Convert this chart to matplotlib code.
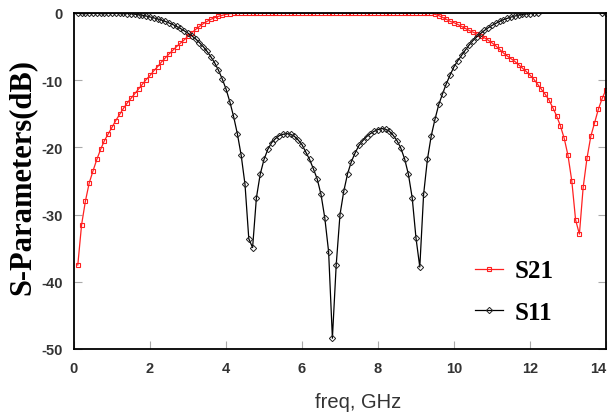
import numpy as np
import matplotlib
matplotlib.use("Agg")
import matplotlib.pyplot as plt

# ---------------- data ----------------
freq_s21 = np.round(np.arange(1, 141) * 0.1, 1)  # 0.1 .. 14.0 GHz
s21_db = [
    -37.5, -31.5, -28.0, -25.3, -23.5, -21.8, -20.3, -19.0, -18.0, -17.0,   # 0.1-1.0
    -16.0, -15.1, -14.2, -13.4, -12.7, -12.0, -11.3, -10.6, -9.9, -9.3,     # 1.1-2.0
    -8.6, -8.0, -7.3, -6.7, -6.1, -5.55, -5.0, -4.5, -4.0, -3.45,          # 2.1-3.0
    -2.95, -2.45, -2.0, -1.6, -1.25, -0.95, -0.7, -0.5, -0.35, -0.2,        # 3.1-4.0
    -0.1, -0.05, -0.05, -0.05, -0.05, -0.05, -0.05, -0.05, -0.05, -0.05,    # 4.1-5.0
    -0.05, -0.05, -0.05, -0.05, -0.05, -0.05, -0.05, -0.05, -0.05, -0.05,   # 5.1-6.0
    -0.05, -0.05, -0.05, -0.05, -0.05, -0.05, -0.05, -0.05, -0.05, -0.05,   # 6.1-7.0
    -0.05, -0.05, -0.05, -0.05, -0.05, -0.05, -0.05, -0.05, -0.05, -0.05,   # 7.1-8.0
    -0.05, -0.05, -0.05, -0.05, -0.05, -0.05, -0.05, -0.05, -0.05, -0.05,   # 8.1-9.0
    -0.05, -0.05, -0.05, -0.05, -0.2, -0.4, -0.65, -0.95, -1.25, -1.45,     # 9.1-10.0
    -1.7, -2.0, -2.3, -2.6, -2.85, -3.1, -3.4, -3.7, -4.05, -4.45,          # 10.1-11.0
    -4.9, -5.4, -5.95, -6.4, -6.8, -7.2, -7.7, -8.2, -8.7, -9.25,           # 11.1-12.0
    -9.85, -10.6, -11.35, -12.1, -12.95, -14.1, -15.3, -16.8, -18.65, -21.2,  # 12.1-13.0
    -25.0, -30.8, -32.9, -25.9, -21.6, -18.35, -16.3, -14.3, -12.7, -11.4,  # 13.1-14.0
]

freq_s11 = list(np.round(np.arange(1, 123) * 0.1, 1)) + [13.9, 14.0]  # 0.1 .. 12.2, then 13.9, 14.0
s11_db = [
    -0.02, -0.02, -0.02, -0.02, -0.02, -0.02, -0.02, -0.02, -0.02, -0.02,   # 0.1-1.0
    -0.02, -0.02, -0.05, -0.08, -0.12, -0.18, -0.25, -0.35, -0.45, -0.58,   # 1.1-2.0
    -0.72, -0.88, -1.05, -1.25, -1.48, -1.72, -2.0, -2.3, -2.65, -3.0,      # 2.1-3.0
    -3.4, -3.85, -4.4, -5.0, -5.7, -6.5, -7.4, -8.5, -9.8, -11.3,           # 3.1-4.0
    -13.2, -15.4, -18.0, -21.2, -25.5, -33.6, -34.9, -27.5, -24.0, -21.8,   # 4.1-5.0
    -20.3, -19.3, -18.7, -18.25, -18.05, -17.95, -18.05, -18.35, -18.9, -19.6,  # 5.1-6.0
    -20.7, -21.8, -23.2, -24.7, -27.0, -30.5, -35.5, -48.4, -37.5, -30.0,   # 6.1-7.0
    -26.5, -23.9, -22.1, -20.8, -19.7, -19.0, -18.4, -17.95, -17.6, -17.35, # 7.1-8.0
    -17.2, -17.3, -17.6, -18.2, -19.0, -20.1, -21.7, -24.0, -27.5, -33.5,   # 8.1-9.0
    -37.8, -27.0, -21.8, -18.3, -15.8, -13.6, -12.0, -10.5, -9.2, -8.0,     # 9.1-10.0
    -7.1, -6.3, -5.5, -4.75, -4.1, -3.55, -3.05, -2.6, -2.2, -1.85,         # 10.1-11.0
    -1.55, -1.25, -1.0, -0.8, -0.6, -0.45, -0.32, -0.22, -0.14, -0.08,      # 11.1-12.0
    -0.04, -0.01,                                                           # 12.1-12.2
    0.0, 0.0,                                                               # 13.9, 14.0
]

x_ticks = [0, 2, 4, 6, 8, 10, 12, 14]
y_ticks = [0, -10, -20, -30, -40, -50]

# ---------------- figure ----------------
W, H = 609, 414
fig = plt.figure(figsize=(W / 100, H / 100), dpi=100)
ax = fig.add_axes([74 / W, 1 - 350 / H, (606 - 74) / W, (350 - 14) / H])

ax.plot(freq_s21, s21_db, color="#ff2020", lw=0.9, marker="s", ms=3.4,
        mfc="none", mec="#ff2020", mew=0.8, label="S21", clip_on=True)
ax.plot(freq_s11, s11_db, color="black", lw=0.9, marker="D", ms=3.2,
        mfc="none", mec="#222222", mew=0.7, label="S11", clip_on=True)

ax.set_xlim(0, 14)
ax.set_ylim(-50, 0)
ax.set_xticks(x_ticks)
ax.set_yticks(y_ticks)
ax.set_xticklabels([str(v) for v in x_ticks])
ax.set_yticklabels([str(v) for v in y_ticks])

for sp in ax.spines.values():
    sp.set_color("black")
    sp.set_linewidth(1.3)

ax.tick_params(axis="both", direction="in", length=6, width=0.8, color="#aaaaaa",
               labelsize=10.5, labelcolor="#333333")
ax.tick_params(axis="y", right=True, pad=8)
ax.tick_params(axis="x", pad=9)
tick_family = ["Liberation Sans Narrow", "Liberation Sans"]
for lab in ax.get_xticklabels() + ax.get_yticklabels():
    lab.set_fontfamily(tick_family)
    lab.set_fontweight("bold")
ax.get_xticklabels()[-1].set_horizontalalignment("right")
ax.get_xticklabels()[-1].set_x(14.1)

fig.text(22 / W, 1 - 177 / H, "S-Parameters(dB)", rotation=90, ha="center", va="center",
         fontsize=22, fontweight="bold", family="Liberation Serif", color="black")
fig.text(358 / W, 1 - 403 / H, "freq, GHz", ha="center", va="center",
         fontsize=14.5, family="Liberation Sans", color="#333333")

leg = ax.legend(loc="upper left", bbox_to_anchor=(462 / W, 1 - 248 / H),
                bbox_transform=fig.transFigure, frameon=False, borderpad=0,
                handlelength=1.15, handletextpad=0.45, labelspacing=0.72,
                prop={"family": "Liberation Serif", "weight": "bold", "size": 18})

fig.savefig("out.png", dpi=100)
